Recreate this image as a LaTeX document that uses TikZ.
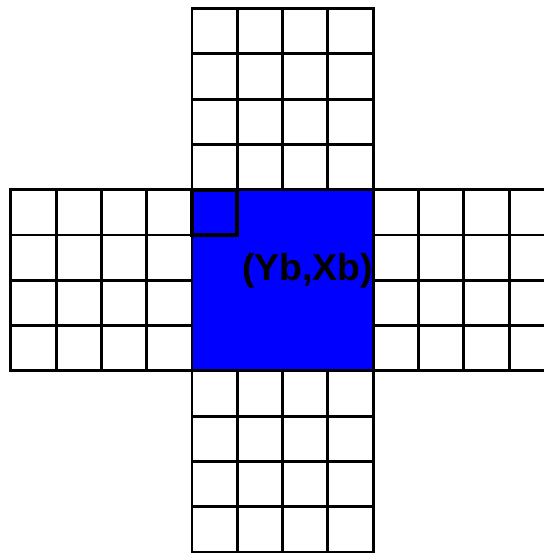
\documentclass[tikz,border=0pt]{standalone}
\usepackage{fontspec}
\setmainfont{Liberation Sans}
\usepackage{xcolor}
\usepackage{tikz}
\usetikzlibrary{positioning}
\definecolor{blockclr}{RGB}{0,0,255}
\tikzset{
    cellgrid/.style={draw=black,line width=1.8pt,line cap=rect,step=1},
    block/.style={draw=black,line width=1.8pt,fill=blockclr},
    corner/.style={draw=black,line width=2.4pt},
    lbl/.style={font=\bfseries\fontsize{23.5}{27}\selectfont,inner sep=0pt},
}
\begin{document}
\begin{tikzpicture}[x=1cm,y=1cm]
\useasboundingbox (-4.24,-4.02) rectangle (7.77,8.19);
% the four arms
\draw[cellgrid] (0,4) grid (4,8);
\draw[cellgrid] (0,-4) grid (4,0);
\draw[cellgrid] (-4,0) grid (0,4);
\draw[cellgrid] (4,0) grid (8,4);
% middle block
\draw[block] (0,0) rectangle (4,4);
\draw[corner] (0,3) rectangle (1,4);
\node[lbl] (pos) at (2.55,2.2) {(Yb,Xb)};
\end{tikzpicture}
\end{document}
